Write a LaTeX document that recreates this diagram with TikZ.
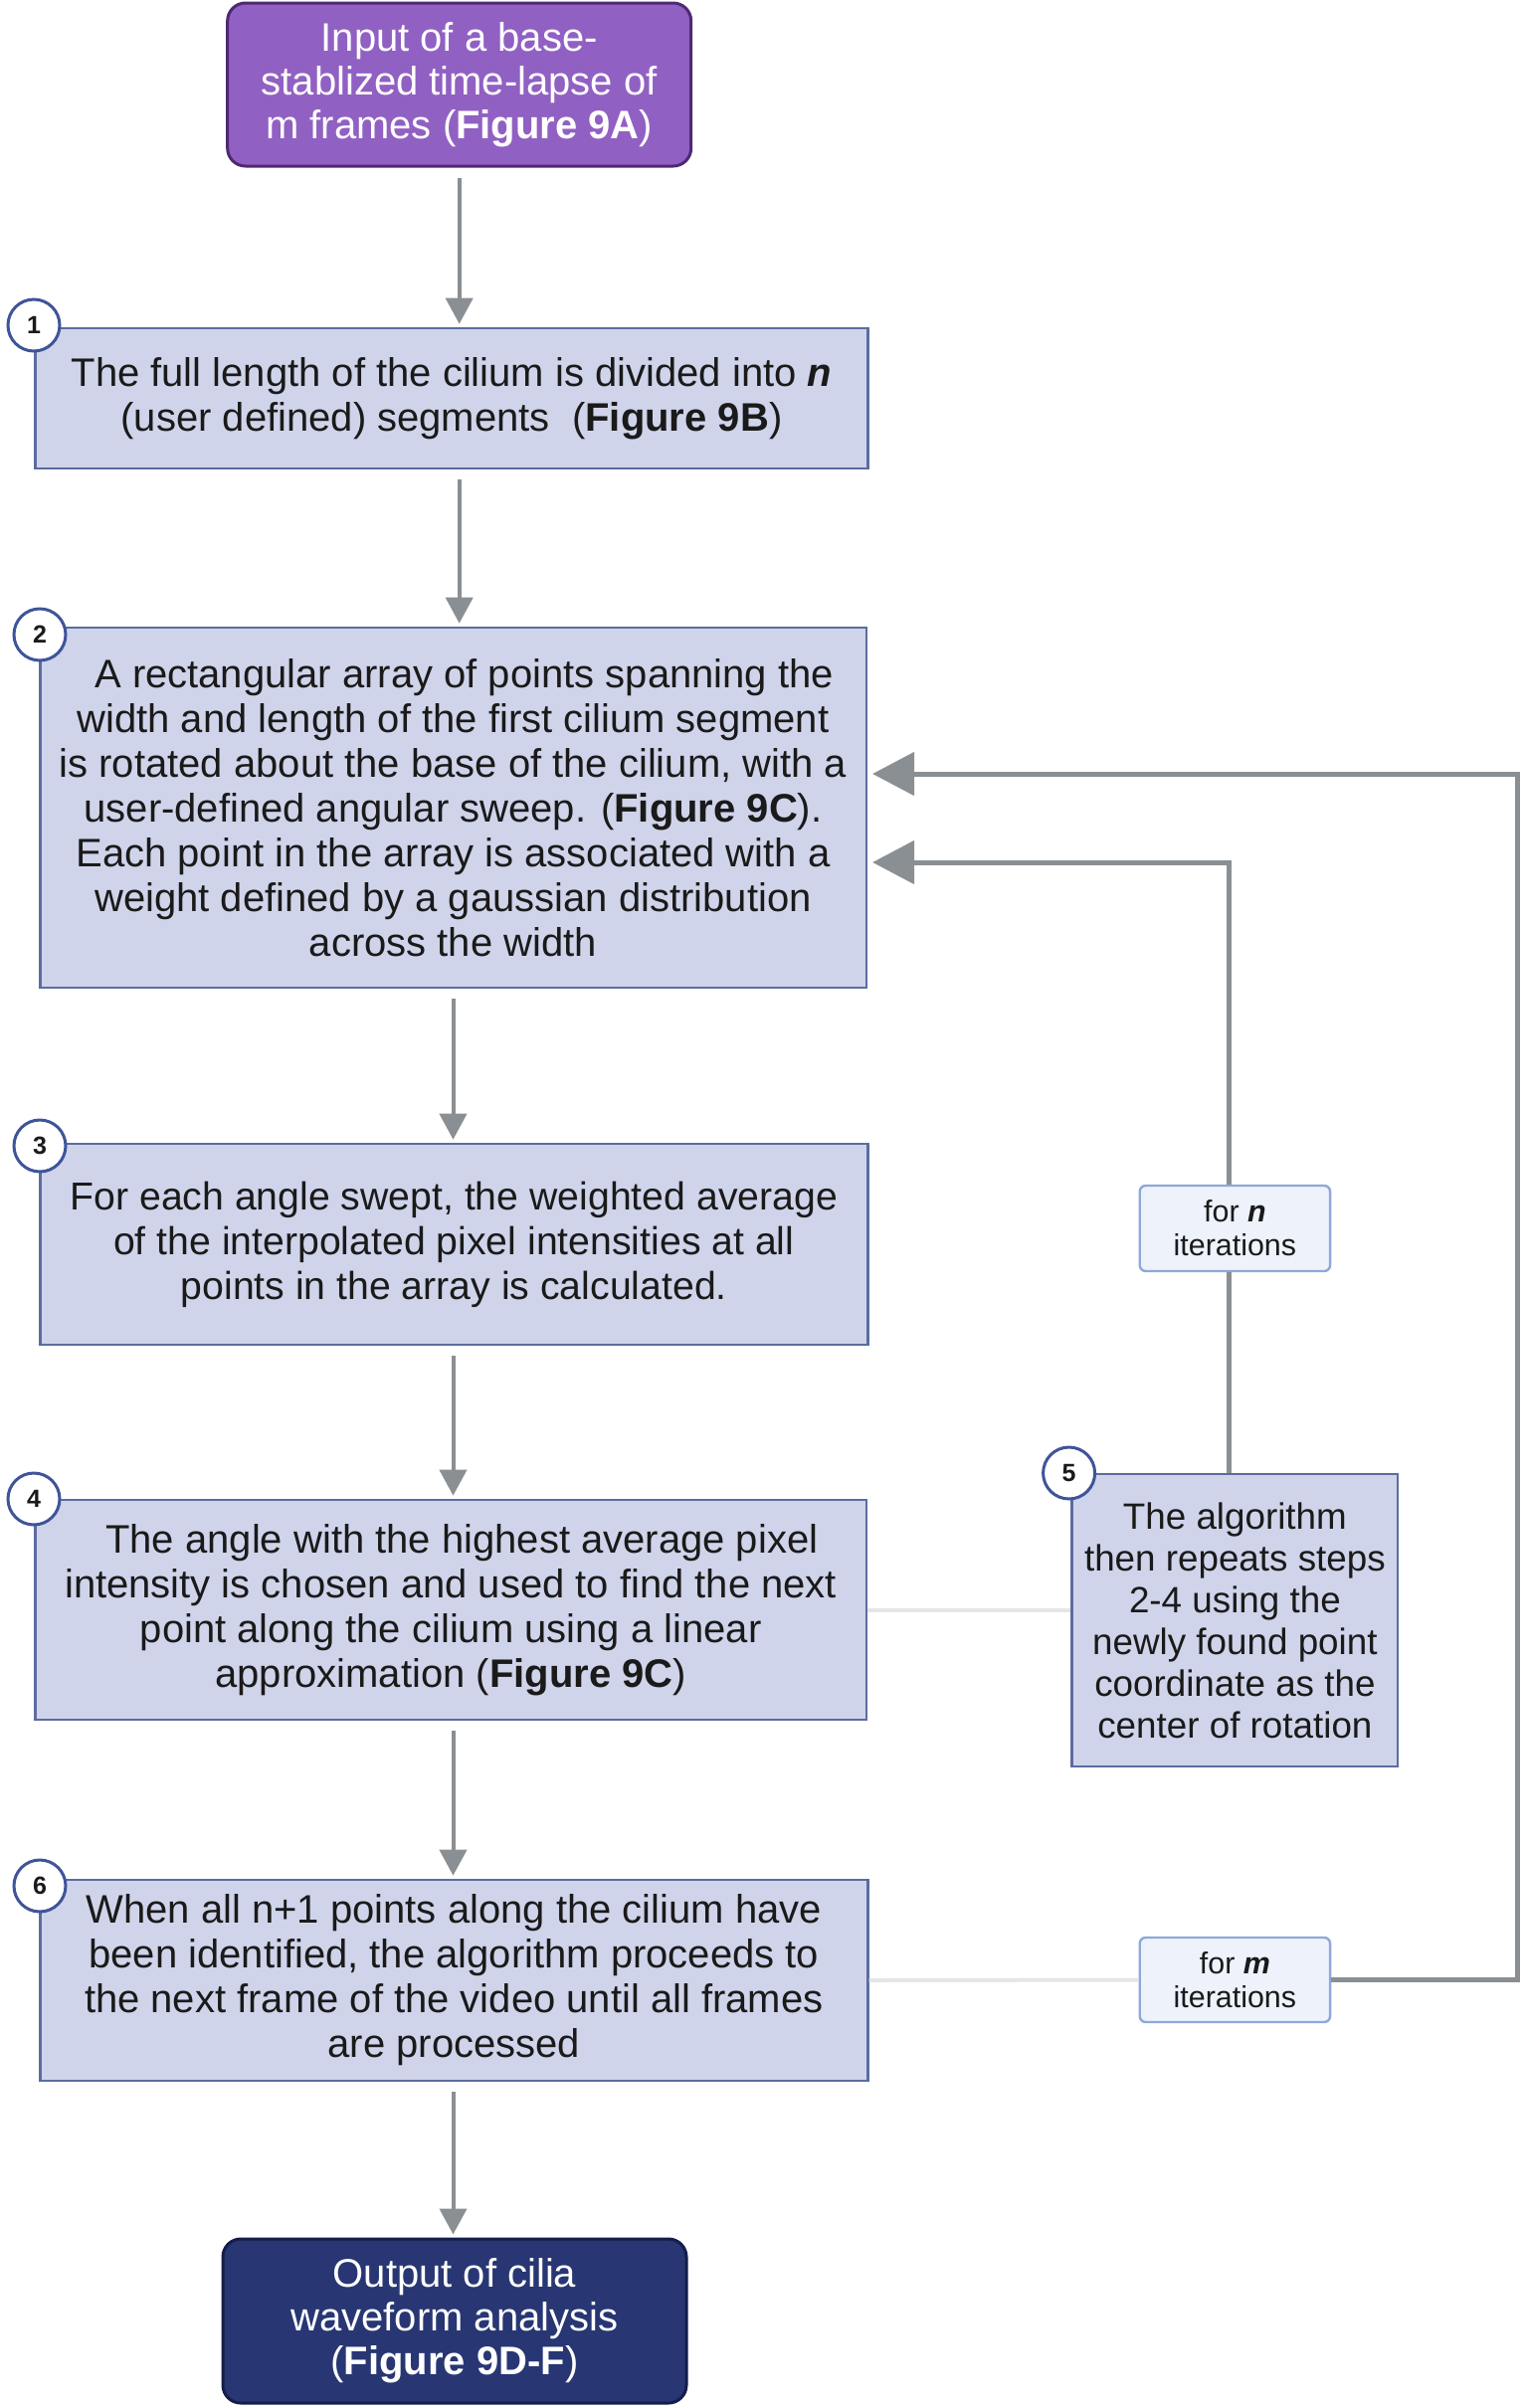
\documentclass[tikz,border=0pt]{standalone}
\usepackage{fontspec}
\setmainfont{Liberation Sans}
\usetikzlibrary{arrows.meta}
\definecolor{purplefill}{HTML}{9160C3}
\definecolor{purpleline}{HTML}{4E2A73}
\definecolor{boxfill}{HTML}{CFD4EA}
\definecolor{boxline}{HTML}{5C6C9F}
\definecolor{navyfill}{HTML}{283673}
\definecolor{navyline}{HTML}{141E4A}
\definecolor{arrowgray}{HTML}{8A8F94}
\definecolor{iterfill}{HTML}{EDF2FB}
\definecolor{iterline}{HTML}{8FA8DA}
\definecolor{circline}{HTML}{3F5499}
\definecolor{txt}{HTML}{1A1A1A}
\definecolor{faintgray}{HTML}{E4E6E8}
\begin{document}
\begin{tikzpicture}[x=0.5pt,y=-0.5pt,
  stepbox/.style={draw=boxline, line width=1.3pt, fill=boxfill, text=txt, align=center,
    inner sep=0pt, font=\fontsize{20pt}{22.5pt}\selectfont},
  endbox/.style={rounded corners=9pt, line width=1.5pt, text=white, align=center,
    inner sep=0pt, font=\fontsize{20pt}{22pt}\selectfont},
  iterbox/.style={draw=iterline, line width=1.2pt, fill=iterfill, rounded corners=3pt,
    text=txt, align=center, inner sep=0pt, font=\fontsize{15.2pt}{17pt}\selectfont},
  badge/.style={circle, draw=circline, line width=1.5pt, fill=white, minimum size=26pt,
    inner sep=0pt, text=txt, font=\fontsize{12.5pt}{12.5pt}\selectfont\bfseries},
  downarrow/.style={draw=arrowgray, line width=2pt, -{Triangle[length=13pt,width=13.5pt]},
    shorten <=5pt, shorten >=1.5pt},
  looparrow/.style={draw=arrowgray, line width=2.5pt, -{Triangle[length=21pt,width=21.5pt]},
    shorten >=2.5pt},
  loopline/.style={draw=arrowgray, line width=2.5pt},
  faintline/.style={draw=faintgray, line width=2pt}
]
\useasboundingbox (0,0) rectangle (1535,2421);

% main column
\node[endbox, draw=purpleline, fill=purplefill, minimum width=233pt, minimum height=82pt] (inp) at (461.7,85)
  {Input of a base-\\stablized time-lapse of\\m frames (\textbf{Figure 9A})};
\node[stepbox, minimum width=418.5pt, minimum height=70.5pt] (box1) at (454,400.5)
  {The full length of the cilium is divided into \textbf{\textit{n}}\\(user defined) segments\ \ (\textbf{Figure 9B})};
\node[stepbox, minimum width=415.3pt, minimum height=181pt] (box2) at (455.5,812)
  {\ \ A rectangular array of points spanning the\\width and length of the first cilium segment\\is rotated about the base of the cilium, with a\\user-defined angular sweep. (\textbf{Figure 9C}).\\Each point in the array is associated with a\\weight defined by a gaussian distribution\\across the width};
\node[stepbox, minimum width=416pt, minimum height=101pt, font=\fontsize{19.6pt}{22.5pt}\selectfont] (box3) at (456.3,1251)
  {For each angle swept, the weighted average\\of the interpolated pixel intensities at all\\points in the array is calculated.};
\node[stepbox, minimum width=417.6pt, minimum height=110.5pt] (box4) at (453.2,1618.5)
  {\ \ The angle with the highest average pixel\\intensity is chosen and used to find the next\\point along the cilium using a linear\\approximation (\textbf{Figure 9C})};
\node[stepbox, minimum width=416pt, minimum height=101pt] (box6) at (456.3,1991)
  {When all n+1 points along the cilium have\\been identified, the algorithm proceeds to\\the next frame of the video until all frames\\are processed};
\node[endbox, draw=navyline, fill=navyfill, minimum width=233pt, minimum height=82.5pt] (out) at (457,2333.5)
  {Output of cilia\\waveform analysis\\(\textbf{Figure 9D-F})};

% side column
\node[stepbox, minimum width=163.7pt, minimum height=147pt, font=\fontsize{18.4pt}{21pt}\selectfont] (box5) at (1241.4,1629)
  {The algorithm\\then repeats steps\\2-4 using the\\newly found point\\coordinate as the\\center of rotation};
\node[iterbox, minimum width=95.7pt, minimum height=43pt] (forn) at (1241.4,1235)
  {for \textbf{\textit{n}}\\iterations};
\node[iterbox, minimum width=95.7pt, minimum height=42.5pt] (form) at (1241.4,1990.5)
  {for \textbf{\textit{m}}\\iterations};

% badges
\node[badge] (b1) at (34,327) {1};
\node[badge] (b2) at (40,638) {2};
\node[badge] (b3) at (40,1152) {3};
\node[badge] (b4) at (34,1507) {4};
\node[badge] (b6) at (40,1896) {6};
\node[badge] (b5) at (1074.6,1481) {5};

% main arrows
\draw[downarrow] (inp.south) -- (inp.south |- box1.north);
\draw[downarrow] (box1.south -| inp.south) -- (inp.south |- box2.north);
\draw[downarrow] (box2.south) -- (box2.south |- box3.north);
\draw[downarrow] (box3.south -| box2.south) -- (box2.south |- box4.north);
\draw[downarrow] (box4.south -| box2.south) -- (box2.south |- box6.north);
\draw[downarrow] (box6.south -| box2.south) -- (box2.south |- out.north);

% faint connectors
\draw[faintline] (box4.east) -- (box4.east -| box5.west);
\draw[faintline] (box6.east) -- (form.west);

% n loop
\coordinate (nturn) at (1235.5,867);
\draw[loopline] (box5.north -| nturn) -- (forn.south -| nturn);
\draw[looparrow] (forn.north -| nturn) -- (nturn) -- (nturn -| box2.east);

% m loop
\coordinate (mlow) at (1525.5,1990.5);
\coordinate (mhigh) at (1525.5,778);
\draw[looparrow] (form.east) -- (mlow) -- (mhigh) -- (mhigh -| box2.east);
\end{tikzpicture}
\end{document}
